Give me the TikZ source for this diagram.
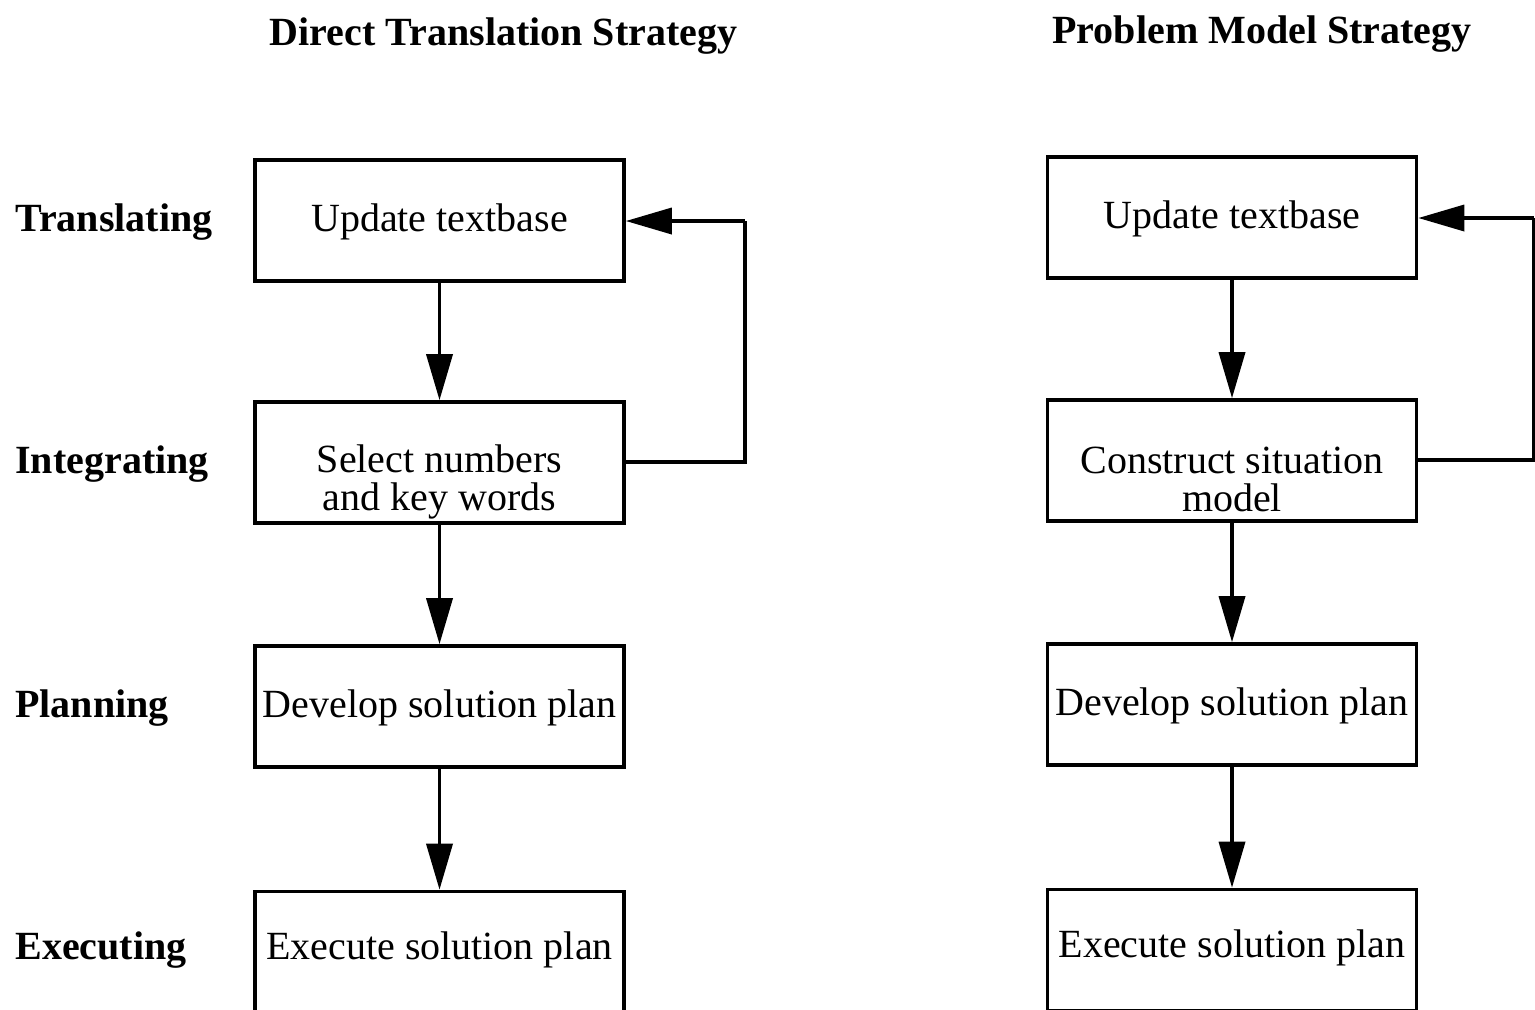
\documentclass[tikz,border=0pt]{standalone}
\usepackage{fontspec}
\setmainfont{Liberation Serif}
\usetikzlibrary{arrows.meta}
\begin{document}
\begin{tikzpicture}[x=0.5pt, y=-0.5pt,
  stagebox/.style={draw, line width=1.8pt, minimum width=184.5pt, minimum height=60.5pt,
    inner sep=0pt, font=\fontsize{20}{19}\selectfont},
  boxtext/.style={align=center, inner sep=0pt, font=\fontsize{20}{19}\selectfont},
  phase/.style={anchor=west, inner sep=0pt, font=\fontsize{20}{24}\bfseries\selectfont},
  heading/.style={inner sep=0pt, font=\fontsize{20}{24}\bfseries\selectfont},
  flow/.style={line width=1.8pt, -{Triangle[length=23pt, width=13pt]}},
  link/.style={line width=1.8pt}]
\useasboundingbox (0,0) rectangle (1535,1009);
\clip (0,0) rectangle (1535,1009);

% column headings
\node[heading] (hdA) at (503.5,36) {Direct Translation Strategy};
\node[heading] (hdB) at (1262,34) {Problem Model Strategy};

% phase names
\node[phase] (ph1) at (15,222) {Translating};
\node[phase] (ph2) at (15,464) {Integrating};
\node[phase] (ph3) at (15,708) {Planning};
\node[phase] (ph4) at (15,950) {Executing};

% direct translation column
\node[stagebox] (L1) at (439.5,220.5) {};
\node[boxtext] (L1t) at (439.5,222) {Update textbase};
\node[stagebox] (L2) at (439.5,462.5) {};
\node[boxtext] (L2t) at (439.5,482) {Select numbers\\and key words};
\node[stagebox] (L3) at (439.5,706.5) {};
\node[boxtext] (L3t) at (439.5,708) {Develop solution plan};
\node[stagebox] (L4) at (439.5,952) {};
\node[boxtext] (L4t) at (439.5,950) {Execute solution plan};

% problem model column
\node[stagebox] (R1) at (1232,217.5) {};
\node[boxtext] (R1t) at (1232,219) {Update textbase};
\node[stagebox] (R2) at (1232,460.5) {};
\node[boxtext] (R2t) at (1232,479) {Construct situation\\model};
\node[stagebox] (R3) at (1232,704.5) {};
\node[boxtext] (R3t) at (1232,706) {Develop solution plan};
\node[stagebox] (R4) at (1232,950) {};
\node[boxtext] (R4t) at (1232,948) {Execute solution plan};

% downward flow
\draw[flow] (L1) -- (L2);
\draw[flow] (L2) -- (L3);
\draw[flow] (L3) -- (L4);
\draw[flow] (R1) -- (R2);
\draw[flow] (R2) -- (R3);
\draw[flow] (R3) -- (R4);

% feedback loops
\coordinate (lbA) at (745,462);
\coordinate (ltA) at (745,221);
\draw[link] (L2.east |- lbA) -- (lbA) -- (ltA);
\draw[flow] (ltA) -- (L1.east |- ltA);
\coordinate (lbB) at (1534,460);
\coordinate (ltB) at (1534,218);
\draw[link] (R2.east |- lbB) -- (lbB) -- (ltB);
\draw[flow] (ltB) -- (R1.east |- ltB);
\end{tikzpicture}
\end{document}
